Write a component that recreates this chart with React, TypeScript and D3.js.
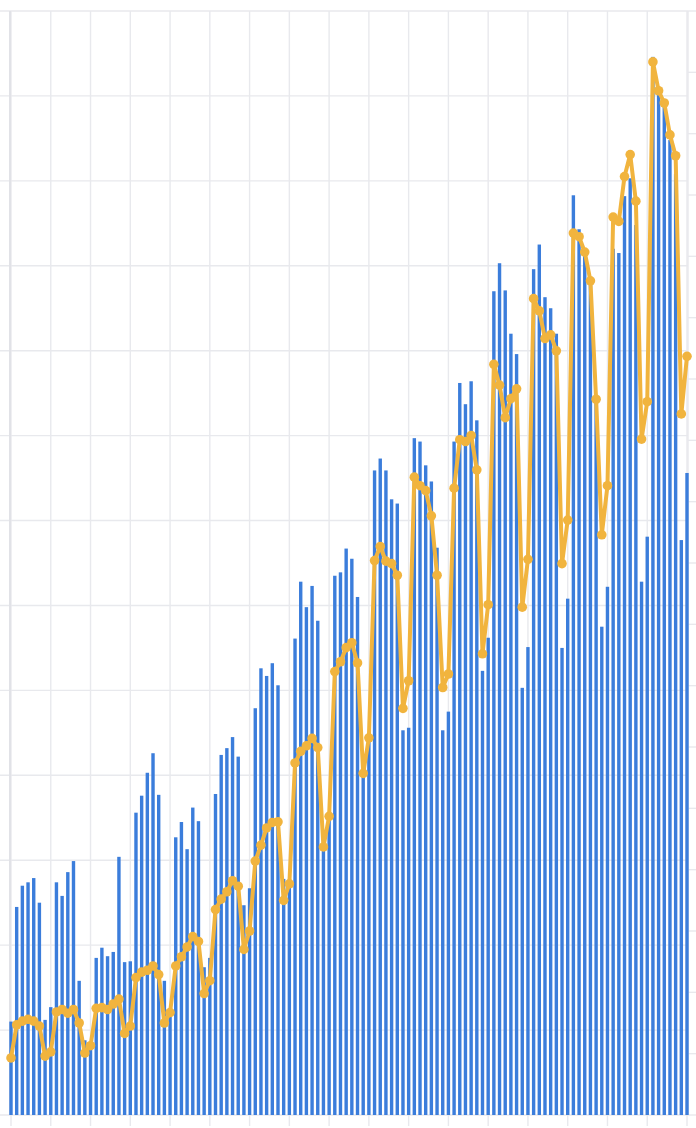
import * as d3 from 'd3';

const W = 696;
const H = 1128;
const plot = { left: 10, right: 688, top: 11, bottom: 1115 };

// daily bars (left axis), weekly ticks
const barValues = [
  110, 245, 270, 274, 279, 250, 112, 127, 274, 258, 286, 299, 158, 88, 81, 185, 197, 187, 192, 304,
  180, 181, 356, 376, 403, 426, 377, 158, 120, 327, 345, 313, 362, 346, 174, 185, 378, 424, 432, 445,
  422, 247, 267, 479, 526, 517, 532, 506, 278, 272, 561, 628, 598, 623, 582, 314, 350, 635, 639, 667,
  655, 610, 400, 442, 759, 773, 759, 725, 720, 453, 456, 797, 793, 765, 746, 668, 453, 475, 793, 862,
  837, 864, 818, 523, 562, 970, 1003, 971, 920, 896, 503, 551, 996, 1025, 963, 950, 920, 550, 608, 1083,
  1043, 1014, 980, 842, 575, 622, 1020, 1015, 1082, 1103, 1048, 628, 681, 1246, 1201, 1187, 1148, 1108, 677, 756,
];

// line series (right axis)
const lineValues = [
  9.3, 14.7, 15.3, 15.6, 15.3, 14.5, 9.6, 10.3, 16.8, 17.2, 16.6, 17.2, 15.0, 10.1, 11.3, 17.4, 17.5, 17.2, 18.1, 18.9,
  13.3, 14.5, 22.4, 23.3, 23.6, 24.3, 22.9, 15.0, 16.7, 24.3, 25.8, 27.4, 29.1, 28.3, 19.8, 21.9, 33.5, 35.2, 36.4, 38.2,
  37.3, 27.0, 30.0, 41.4, 44.0, 46.8, 47.7, 47.8, 35.0, 37.7, 57.4, 59.3, 60.2, 61.4, 59.9, 43.7, 48.7, 72.3, 73.9, 76.2,
  77.0, 73.7, 55.7, 61.5, 90.4, 92.7, 90.3, 89.9, 88.0, 66.3, 70.8, 104.0, 102.6, 101.8, 97.7, 88.0, 69.7, 71.9, 102.2, 110.1,
  109.8, 110.8, 105.2, 75.2, 83.2, 122.4, 119.0, 113.7, 116.8, 118.4, 82.8, 90.6, 133.1, 131.1, 126.6, 127.2, 124.6, 89.9, 97.0, 143.8,
  143.2, 140.7, 136.0, 116.7, 94.6, 102.6, 146.4, 145.7, 153.0, 156.6, 149.0, 110.2, 116.3, 171.7, 167.0, 165.0, 159.8, 156.4, 114.3, 123.7,
];

const leftMax = 1300;
const rightMax = 180;

const BAR = '#3b7ddb';
const LINE = '#f1b43e';
const GRID = '#e8e9ed';

export default function App() {
  const x = d3.scaleLinear().domain([0, barValues.length - 1]).range([11, 687]);
  const yBar = d3.scaleLinear().domain([0, leftMax]).range([plot.bottom, plot.top]);
  const yLine = d3.scaleLinear().domain([0, rightMax]).range([plot.bottom, plot.top]);

  const xTicks = d3.range(0, barValues.length, 7);
  const leftTicks = yBar.ticks(13);
  const rightTicks = yLine.ticks(18);
  const bw = 3.4;

  const linePath = d3
    .line<number>()
    .x((_, i) => x(i))
    .y((d) => yLine(d))(lineValues) as string;

  return (
    <svg
      width={W}
      height={H}
      style={{ position: 'absolute', left: 0, top: 0, background: '#fff' }}
    >
      {/* horizontal grid + left ticks */}
      {leftTicks.map((t) => (
        <line key={'h' + t} x1={0} x2={plot.right} y1={yBar(t)} y2={yBar(t)} stroke={GRID} strokeWidth={1.4} />
      ))}
      {/* vertical grid + bottom ticks */}
      {xTicks.map((t) => (
        <line key={'v' + t} x1={x(t)} x2={x(t)} y1={plot.top} y2={plot.bottom + 11} stroke={GRID} strokeWidth={1.4} />
      ))}
      {/* right axis ticks */}
      {rightTicks.map((t) => (
        <line key={'r' + t} x1={plot.right} x2={W} y1={yLine(t)} y2={yLine(t)} stroke={GRID} strokeWidth={1.4} />
      ))}
      <line x1={plot.left} x2={plot.left} y1={plot.top} y2={plot.bottom} stroke="#e1e2e7" strokeWidth={2} />
      <line x1={plot.right} x2={plot.right} y1={plot.top} y2={plot.bottom} stroke={GRID} strokeWidth={1.4} />

      {/* bars */}
      <g>
        {barValues.map((v, i) => (
          <rect
            key={i}
            x={x(i) - bw / 2}
            y={yBar(v)}
            width={bw}
            height={plot.bottom - yBar(v)}
            fill={BAR}
          />
        ))}
      </g>

      {/* line */}
      <path d={linePath} fill="none" stroke={LINE} strokeWidth={4} strokeLinejoin="round" />
      {lineValues.map((v, i) => (
        <circle key={'c' + i} cx={x(i)} cy={yLine(v)} r={4.8} fill={LINE} />
      ))}
    </svg>
  );
}
